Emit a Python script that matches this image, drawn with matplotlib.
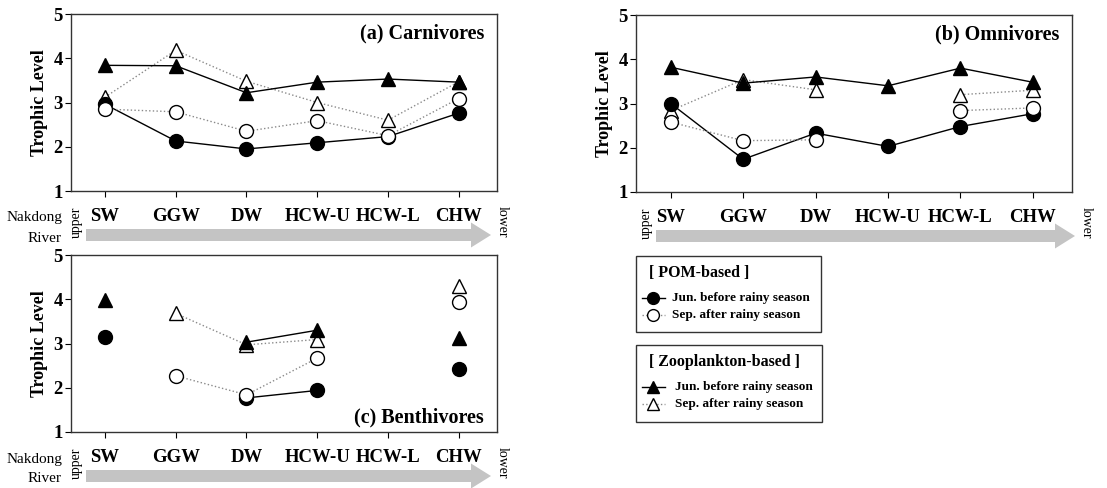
import numpy as np
import matplotlib
matplotlib.use("Agg")
import matplotlib.pyplot as plt
from matplotlib.patches import FancyArrow, Rectangle

plt.rcParams['font.family'] = ['Liberation Serif', 'DejaVu Serif']

sites = ['SW', 'GGW', 'DW', 'HCW-U', 'HCW-L', 'CHW']
nan = np.nan

# (a) Carnivores
carn_pom_jun = [2.96, 2.13, 1.95, 2.09, 2.23, 2.76]
carn_pom_sep = [2.85, 2.79, 2.35, 2.59, 2.25, 3.09]
carn_zoo_jun = [3.84, 3.83, 3.22, 3.46, 3.53, 3.46]
carn_zoo_sep = [3.12, 4.18, 3.48, 3.00, 2.60, 3.47]

# (b) Omnivores
omni_pom_jun = [3.00, 1.74, 2.33, 2.03, 2.48, 2.77]
omni_pom_sep = [2.58, 2.16, 2.18, nan, 2.84, 2.90]
omni_zoo_jun = [3.82, 3.46, 3.60, 3.40, 3.80, 3.48]
omni_zoo_sep = [2.84, 3.54, 3.31, nan, 3.20, 3.30]

# (c) Benthivores
benth_pom_jun = [3.15, nan, 1.77, 1.94, nan, 2.42]
benth_pom_sep = [nan, 2.27, 1.84, 2.67, nan, 3.93]
benth_zoo_jun = [3.98, nan, 3.03, 3.30, nan, 3.13]
benth_zoo_sep = [nan, 3.68, 2.97, 3.09, nan, 4.30]

panels = [
    ('(a) Carnivores', carn_pom_jun, carn_pom_sep, carn_zoo_jun, carn_zoo_sep),
    ('(b) Omnivores', omni_pom_jun, omni_pom_sep, omni_zoo_jun, omni_zoo_sep),
    ('(c) Benthivores', benth_pom_jun, benth_pom_sep, benth_zoo_jun, benth_zoo_sep),
]
legend_labels = ['Jun. before rainy season', 'Sep. after rainy season']

W, H = 1107, 488
fig = plt.figure(figsize=(W / 100, H / 100), dpi=100)


def px_axes(left, top, right, bottom):
    return fig.add_axes([left / W, 1 - bottom / H, (right - left) / W, (bottom - top) / H])


boxes = [(71, 14, 497, 191), (636, 15, 1072, 192), (71, 255, 497, 432)]
x = np.arange(1, len(sites) + 1)

solid = dict(color='black', lw=1.0, ls='-')
dotted = dict(color='#8a8a8a', lw=1.0, ls=':')
styles = {
    'pom_jun': dict(marker='o', ms=10, mfc='black', mec='black', **solid),
    'pom_sep': dict(marker='o', ms=10, mfc='white', mec='black', mew=1.0, **dotted),
    'zoo_jun': dict(marker='^', ms=10.5, mfc='black', mec='black', **solid),
    'zoo_sep': dict(marker='^', ms=10.5, mfc='white', mec='black', mew=1.0, **dotted),
}

for (title, pj, ps, zj, zs), box in zip(panels, boxes):
    ax = px_axes(*box)
    ax.plot(x, zs, **styles['zoo_sep'])
    ax.plot(x, ps, **styles['pom_sep'], zorder=3)
    ax.plot(x, zj, **styles['zoo_jun'], zorder=2)
    ax.plot(x, pj, **styles['pom_jun'], zorder=2)
    ax.set_xlim(0.52, 6.54)
    ax.set_ylim(1, 5)
    ax.set_yticks([1, 2, 3, 4, 5])
    ax.set_xticks(x)
    ax.set_xticklabels(sites, fontsize=13.5, fontweight='bold')
    ax.tick_params(axis='x', direction='out', length=4, pad=8)
    ax.tick_params(axis='y', direction='out', length=4, pad=2, labelsize=13.5)
    for lab in ax.get_yticklabels():
        lab.set_fontweight('bold')
    for s in ax.spines.values():
        s.set_color('#333333')
        s.set_linewidth(1.0)
    ax.set_ylabel('Trophic Level', fontsize=13, fontweight='bold', labelpad=4)
    ty = 0.08 if title.startswith('(c)') else 0.89
    ax.text(0.97, ty, title, transform=ax.transAxes, ha='right', va='center',
            fontsize=14.5, fontweight='bold')

# overlay for river arrows and legend boxes (pixel coordinates)
ov = fig.add_axes([0, 0, 1, 1], facecolor='none')
ov.set_xlim(0, W)
ov.set_ylim(H, 0)
ov.axis('off')

arrows = [(86, 491, 235, True), (656, 1075, 236, False), (86, 491, 476, True)]
for x0, x1, y, river in arrows:
    ov.add_patch(FancyArrow(x0, y, x1 - x0, 0, width=12, head_width=25, head_length=20,
                            length_includes_head=True, color='#c4c4c4', lw=0))
    ov.text(x0 - 10, y - 13, 'upper', rotation=90, ha='center', va='center', fontsize=10)
    ov.text(x1 + 11, y - 13, 'lower', rotation=270, ha='center', va='center', fontsize=10)
    if river:
        ov.text(62, y - 17, 'Nakdong', ha='right', va='center', fontsize=11)
        ov.text(62, y + 3, 'River', ha='right', va='center', fontsize=11)

# legend boxes
legends = [
    ('[ POM-based ]', ['pom_jun', 'pom_sep'], (636, 256, 821, 332), 672),
    ('[ Zooplankton-based ]', ['zoo_jun', 'zoo_sep'], (636, 345, 822, 422), 675),
]
for title, keys, (l, t, r, b), tx in legends:
    ov.add_patch(Rectangle((l, t), r - l, b - t, fill=False, ec='#333333', lw=1.0))
    ov.text(l + 13, t + 17, title, ha='left', va='center', fontsize=11.5, fontweight='bold')
    for i, (key, lab) in enumerate(zip(keys, legend_labels)):
        yy = t + 42 + 17 * i
        st = dict(styles[key])
        st['ms'] = st['ms'] * 0.85
        ov.plot([l + 6, l + 17, l + 29], [yy, yy, yy], markevery=[1], **st)
        ov.text(tx, yy, lab, ha='left', va='center', fontsize=9.5, fontweight='bold')

fig.savefig('out.png', dpi=100)
